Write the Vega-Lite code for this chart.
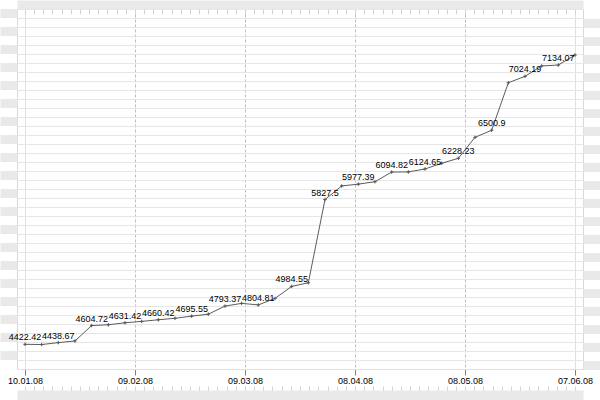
{
  "$schema": "https://vega.github.io/schema/vega-lite/v6.json",
  "width": 566,
  "height": 360,
  "autosize": {"type": "none"},
  "padding": {"left": 17, "top": 9, "right": 17, "bottom": 31},
  "background": "#ffffff",
  "config": {"view": {"fill": "#ffffff", "stroke": "#d8d8d8", "strokeWidth": 1}},
  "data": {"values": [
    {"date": "2008-01-10T07:00:00Z", "value": 4422.42, "label": "4422.42"},
    {"date": "2008-01-14T19:22:00Z", "value": 4420},
    {"date": "2008-01-19T07:44:00Z", "value": 4438.67, "label": "4438.67"},
    {"date": "2008-01-23T20:05:00Z", "value": 4455},
    {"date": "2008-01-28T08:27:00Z", "value": 4604.72, "label": "4604.72"},
    {"date": "2008-02-01T20:49:00Z", "value": 4612},
    {"date": "2008-02-06T09:11:00Z", "value": 4631.42, "label": "4631.42"},
    {"date": "2008-02-10T21:33:00Z", "value": 4645},
    {"date": "2008-02-15T09:55:00Z", "value": 4660.42, "label": "4660.42"},
    {"date": "2008-02-19T22:16:00Z", "value": 4675},
    {"date": "2008-02-24T10:38:00Z", "value": 4695.55, "label": "4695.55"},
    {"date": "2008-02-28T23:00:00Z", "value": 4715},
    {"date": "2008-03-04T11:22:00Z", "value": 4793.37, "label": "4793.37"},
    {"date": "2008-03-08T23:44:00Z", "value": 4820},
    {"date": "2008-03-13T12:05:00Z", "value": 4804.81, "label": "4804.81"},
    {"date": "2008-03-18T00:27:00Z", "value": 4868},
    {"date": "2008-03-22T12:49:00Z", "value": 4984.55, "label": "4984.55"},
    {"date": "2008-03-27T01:11:00Z", "value": 5020},
    {"date": "2008-03-31T13:33:00Z", "value": 5827.5, "label": "5827.5"},
    {"date": "2008-04-05T01:55:00Z", "value": 5960},
    {"date": "2008-04-09T14:16:00Z", "value": 5977.39, "label": "5977.39"},
    {"date": "2008-04-14T02:38:00Z", "value": 6001},
    {"date": "2008-04-18T15:00:00Z", "value": 6094.82, "label": "6094.82"},
    {"date": "2008-04-23T03:22:00Z", "value": 6096},
    {"date": "2008-04-27T15:44:00Z", "value": 6124.65, "label": "6124.65"},
    {"date": "2008-05-02T04:05:00Z", "value": 6180},
    {"date": "2008-05-06T16:27:00Z", "value": 6228.23, "label": "6228.23"},
    {"date": "2008-05-11T04:49:00Z", "value": 6432},
    {"date": "2008-05-15T17:11:00Z", "value": 6500.9, "label": "6500.9"},
    {"date": "2008-05-20T05:33:00Z", "value": 6962},
    {"date": "2008-05-24T17:55:00Z", "value": 7024.19, "label": "7024.19"},
    {"date": "2008-05-29T06:16:00Z", "value": 7125},
    {"date": "2008-06-02T18:38:00Z", "value": 7134.07, "label": "7134.07"},
    {"date": "2008-06-07T07:00:00Z", "value": 7231}
  ]},
  "resolve": {"axis": {"x": "independent", "y": "independent"}},
  "layer": [
    {
      "mark": {"type": "line", "color": "#5c5c5c", "strokeWidth": 1},
      "encoding": {
        "x": {
          "field": "date", "type": "temporal",
          "scale": {"type": "utc", "domain": [1199761148000, 1213009252000], "nice": false},
          "axis": {
            "orient": "bottom", "title": null,
            "values": [1199948400000, 1202523120000, 1205097840000, 1207672560000, 1210247280000, 1212822000000],
            "format": "%d.%m.%y",
            "labelFont": "Liberation Sans", "labelFontSize": 9, "labelColor": "#000000",
            "labelPadding": 1, "labelOverlap": false, "labelFlush": false, "labelBound": false,
            "tickColor": "#808080", "tickSize": 6, "tickWidth": 1,
            "domain": true, "domainColor": "#e0e0e0", "domainWidth": 1,
            "grid": true,
            "gridColor": {"condition": {"test": "datum.index > 0.01 && datum.index < 0.99", "value": "#bdbdbd"}, "value": "#e0e0e0"},
            "gridDash": {"condition": {"test": "datum.index > 0.01 && datum.index < 0.99", "value": [3, 2]}, "value": []},
            "gridWidth": 1
          }
        },
        "y": {
          "field": "value", "type": "quantitative",
          "scale": {"domain": [4182.6, 7678], "nice": false, "zero": false},
          "axis": {
            "orient": "left", "title": null, "labels": false, "ticks": false, "domain": false,
            "grid": true, "gridColor": "#e6e6e6", "gridWidth": 1,
            "values": [7678, 7590.62, 7503.23, 7415.85, 7328.46, 7241.08, 7153.69, 7066.31, 6978.92, 6891.54, 6804.15, 6716.77, 6629.38, 6542.0, 6454.61, 6367.23, 6279.84, 6192.46, 6105.07, 6017.69, 5930.3, 5842.92, 5755.53, 5668.15, 5580.76, 5493.38, 5405.99, 5318.61, 5231.22, 5143.84, 5056.45, 4969.07, 4881.68, 4794.3, 4706.91, 4619.53, 4532.14, 4444.76, 4357.37, 4269.99, 4182.6]
          }
        }
      }
    },
    {
      "mark": {"type": "point", "shape": "M-1,0H1M0,-1V1", "size": 12, "filled": false, "stroke": "#555555", "strokeWidth": 1, "opacity": 1},
      "encoding": {
        "x": {
          "field": "date", "type": "temporal",
          "scale": {"type": "utc", "domain": [1199761148000, 1213009252000], "nice": false},
          "axis": {
            "orient": "top", "offset": 4.5, "title": null, "labels": false, "grid": false,
            "domain": true, "domainColor": "#e9e9e9", "domainWidth": 9,
            "tickColor": "#d4d4d4", "tickSize": -9.5, "tickWidth": 1,
            "values": [1199948400000, 1200162960000, 1200377520000, 1200592080000, 1200806640000, 1201021200000, 1201235760000, 1201450320000, 1201664880000, 1201879440000, 1202094000000, 1202308560000, 1202523120000, 1202737680000, 1202952240000, 1203166800000, 1203381360000, 1203595920000, 1203810480000, 1204025040000, 1204239600000, 1204454160000, 1204668720000, 1204883280000, 1205097840000, 1205312400000, 1205526960000, 1205741520000, 1205956080000, 1206170640000, 1206385200000, 1206599760000, 1206814320000, 1207028880000, 1207243440000, 1207458000000, 1207672560000, 1207887120000, 1208101680000, 1208316240000, 1208530800000, 1208745360000, 1208959920000, 1209174480000, 1209389040000, 1209603600000, 1209818160000, 1210032720000, 1210247280000, 1210461840000, 1210676400000, 1210890960000, 1211105520000, 1211320080000, 1211534640000, 1211749200000, 1211963760000, 1212178320000, 1212392880000, 1212607440000, 1212822000000]
          }
        },
        "y": {
          "field": "value", "type": "quantitative",
          "scale": {"domain": [4182.6, 7678], "nice": false, "zero": false},
          "axis": {
            "orient": "left", "title": null, "labels": false, "grid": false, "domain": false,
            "tickColor": "#e9e9e9", "tickSize": 17, "tickWidth": 9,
            "values": [7634.31, 7459.54, 7284.77, 7110.0, 6935.23, 6760.46, 6585.69, 6410.92, 6236.15, 6061.38, 5886.61, 5711.84, 5537.07, 5362.3, 5187.53, 5012.76, 4837.99, 4663.22, 4488.45, 4313.68]
          }
        }
      }
    },
    {
      "transform": [{"filter": {"field": "label", "valid": true}}],
      "mark": {"type": "text", "dy": -4, "baseline": "alphabetic", "align": "center", "font": "Liberation Sans", "fontSize": 9, "color": "#000000"},
      "encoding": {
        "x": {
          "field": "date", "type": "temporal",
          "scale": {"type": "utc", "domain": [1199761148000, 1213009252000], "nice": false},
          "axis": {
            "orient": "bottom", "offset": 26, "title": null, "labels": false, "grid": false,
            "domain": true, "domainColor": "#e9e9e9", "domainWidth": 10,
            "tickColor": "#d4d4d4", "tickSize": -9, "tickWidth": 1,
            "values": [1199948400000, 1200162960000, 1200377520000, 1200592080000, 1200806640000, 1201021200000, 1201235760000, 1201450320000, 1201664880000, 1201879440000, 1202094000000, 1202308560000, 1202523120000, 1202737680000, 1202952240000, 1203166800000, 1203381360000, 1203595920000, 1203810480000, 1204025040000, 1204239600000, 1204454160000, 1204668720000, 1204883280000, 1205097840000, 1205312400000, 1205526960000, 1205741520000, 1205956080000, 1206170640000, 1206385200000, 1206599760000, 1206814320000, 1207028880000, 1207243440000, 1207458000000, 1207672560000, 1207887120000, 1208101680000, 1208316240000, 1208530800000, 1208745360000, 1208959920000, 1209174480000, 1209389040000, 1209603600000, 1209818160000, 1210032720000, 1210247280000, 1210461840000, 1210676400000, 1210890960000, 1211105520000, 1211320080000, 1211534640000, 1211749200000, 1211963760000, 1212178320000, 1212392880000, 1212607440000, 1212822000000]
          }
        },
        "y": {
          "field": "value", "type": "quantitative",
          "scale": {"domain": [4182.6, 7678], "nice": false, "zero": false},
          "axis": {
            "orient": "right", "title": null, "labels": false, "grid": false, "domain": false,
            "tickColor": "#e9e9e9", "tickSize": 17,
            "tickWidth": {"condition": {"test": "datum.value < 4000", "value": 10}, "value": 9},
            "values": [7721.69, 7546.92, 7372.15, 7197.38, 7022.61, 6847.84, 6673.07, 6498.3, 6323.53, 6148.76, 5973.99, 5799.22, 5624.45, 5449.68, 5274.91, 5100.14, 4925.37, 4750.6, 4575.83, 4401.06, 4226.29, 3930.2]
          }
        },
        "text": {"field": "label", "type": "nominal"}
      }
    }
  ]
}
